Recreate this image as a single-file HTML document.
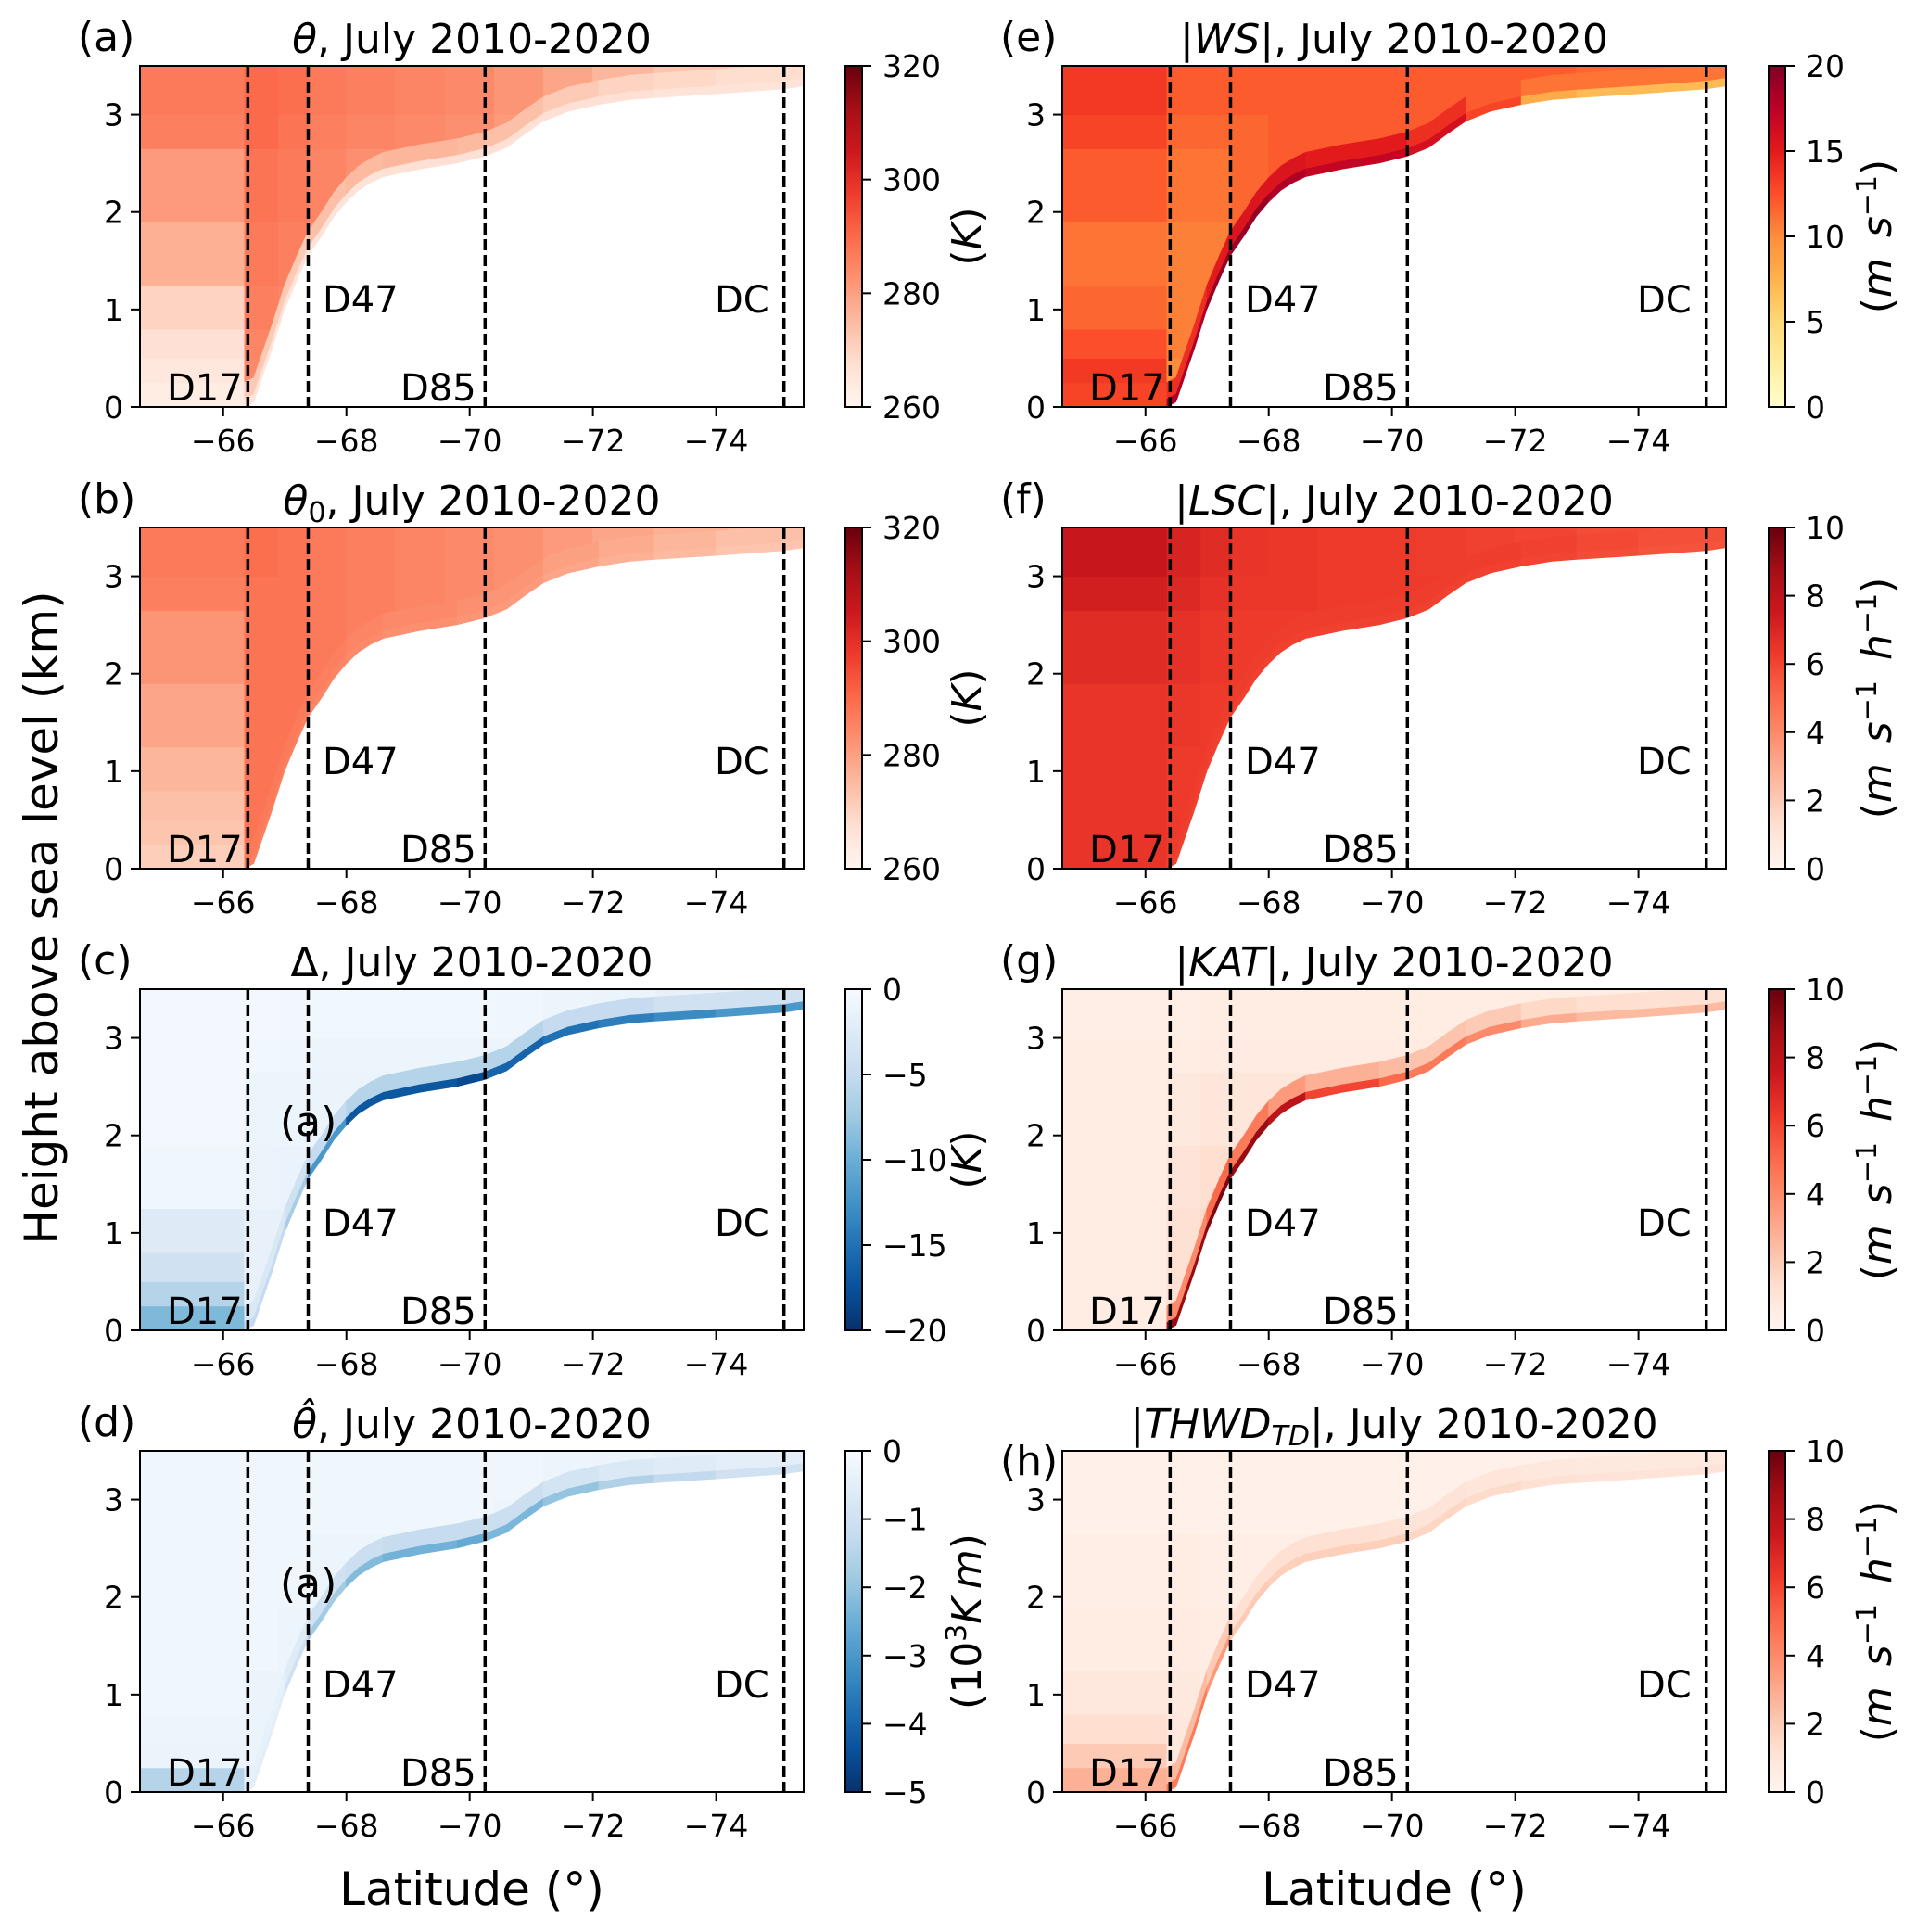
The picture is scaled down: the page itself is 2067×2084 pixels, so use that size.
<!DOCTYPE html>
<html><head><meta charset="utf-8">
<style>
html,body{margin:0;padding:0;background:#fff;}
svg{display:block;font-family:"DejaVu Sans","Liberation Sans",sans-serif;}
</style></head>
<body>
<svg id="fig" width="2067" height="2084" viewBox="0 0 2067 2084" xmlns="http://www.w3.org/2000/svg">
<defs id="defs"></defs>
</svg>
<script>
// ---------- data arrays ----------
const latEdges = [-64.65,-66.35,-66.9,-67.4,-68.0,-68.8,-69.6,-70.4,-71.2,-72.0,-73.0,-74.2,-75.42];
const hEdges = [0,0.25,0.5,0.8,1.25,1.9,2.65,3.0,3.5];
const terrainLat = [-64.65,-66.35,-66.5,-66.8,-67.0,-67.2,-67.38,-67.6,-67.8,-68.0,-68.2,-68.4,-68.6,-69.2,-69.8,-70.25,-70.6,-70.9,-71.2,-71.6,-72.1,-72.6,-73.0,-74.0,-75.1,-75.42];
const terrainH = [0,0,0.05,0.6,1.0,1.3,1.55,1.75,1.95,2.1,2.22,2.3,2.36,2.44,2.5,2.57,2.66,2.8,2.93,3.03,3.1,3.15,3.17,3.21,3.26,3.29];
const stationLat = [-66.4,-67.38,-70.25,-75.1];
const stationNames = ["D17","D47","D85","DC"];
const xTicks = [-66,-68,-70,-72,-74];
const yTicks = [0,1,2,3];
const bandDepth = [0.25,0.08];

// grids: rows bottom->top (8), cols west->east (12)
const gridA = [
 [263,283,283,283,283,283,283,283,283,283,283,283],
 [265,284,284,284,284,284,284,284,284,284,284,284],
 [267,285,285,285,285,285,285,285,285,285,285,285],
 [270,286,285,285,285,285,285,285,285,285,285,285],
 [277,287,286,284,284,284,284,284,284,284,284,284],
 [281,288,287,285,283,282,281,280,279,279,279,279],
 [286,290,288,286,285,284,283,281,278,275,273,272],
 [287,290,289,287,286,285,284,282,279,276,273,271]];
const bandA = [[272,272,272,274,275,276,275,274,272,270,269,268],[264,266,266,266,266,267,267,267,267,267,266,266]];
const gridB = [
 [271,288,288,287,286,285,284,283,281,279,277,275],
 [273,288,288,287,286,285,284,283,281,279,277,275],
 [274,288,288,287,286,285,284,283,281,279,277,275],
 [276,288,288,287,286,285,284,283,281,279,277,275],
 [279,288,288,287,286,285,284,283,281,279,277,275],
 [282,288,288,287,286,285,284,283,281,279,277,275],
 [286,288,288,287,286,285,284,283,281,279,277,275],
 [287,289,288,287,286,285,284,283,281,279,277,275]];
const bandB = [[271,287,287,286,285,284,283,282,280,278,276,274],[271,286,286,285,284,283,282,281,279,277,275,273]];
const gridC = [
 [-9,-1.5,-1.5,-1.5,-1.5,-1.5,-1.5,-1.5,-1.5,-1.5,-1.5,-1.5],
 [-6,-1.5,-1.5,-1.5,-1.5,-1.5,-1.5,-1.5,-1.5,-1.5,-1.5,-1.5],
 [-4,-1.5,-1.5,-1.5,-1.5,-1.5,-1.5,-1.5,-1.5,-1.5,-1.5,-1.5],
 [-2.5,-1.5,-1.5,-1.5,-1.5,-1.5,-1.5,-1.5,-1.5,-1.5,-1.5,-1.5],
 [-0.8,-1.2,-1.3,-1.5,-1.5,-1.5,-1.5,-1.5,-1.5,-1.5,-1.5,-1.5],
 [-0.5,-1.0,-1.0,-1.2,-1.2,-1.2,-1.2,-1.2,-1.2,-1.2,-1.2,-1.2],
 [-0.4,-0.7,-0.8,-1.0,-1.0,-1.0,-1.0,-1.0,-1.2,-1.5,-1.8,-2.0],
 [-0.4,-0.5,-0.6,-0.7,-0.7,-0.7,-0.7,-0.8,-1.0,-1.2,-1.5,-2.0]];
const bandC = [[-3,-3,-4,-5,-6,-6,-6,-6,-5,-5,-4,-4],[-5,-5,-7,-12,-17,-17,-18,-16,-15,-14,-13,-12]];
const gridD = [
 [-1.5,-0.3,-0.3,-0.3,-0.3,-0.3,-0.3,-0.3,-0.3,-0.3,-0.3,-0.3],
 [-0.3,-0.3,-0.3,-0.3,-0.3,-0.3,-0.3,-0.3,-0.3,-0.3,-0.3,-0.3],
 [-0.25,-0.3,-0.3,-0.3,-0.3,-0.3,-0.3,-0.3,-0.3,-0.3,-0.3,-0.3],
 [-0.2,-0.3,-0.3,-0.3,-0.3,-0.3,-0.3,-0.3,-0.3,-0.3,-0.3,-0.3],
 [-0.2,-0.2,-0.25,-0.3,-0.3,-0.3,-0.3,-0.3,-0.3,-0.3,-0.3,-0.3],
 [-0.2,-0.2,-0.2,-0.25,-0.25,-0.25,-0.25,-0.3,-0.3,-0.3,-0.3,-0.3],
 [-0.2,-0.2,-0.2,-0.2,-0.2,-0.2,-0.2,-0.25,-0.3,-0.4,-0.4,-0.4],
 [-0.2,-0.2,-0.2,-0.2,-0.2,-0.2,-0.2,-0.2,-0.25,-0.3,-0.4,-0.5]];
const bandD = [[-0.4,-0.4,-0.6,-1.0,-1.1,-1.2,-1.2,-1.1,-0.9,-0.7,-0.6,-0.5],[-0.5,-0.5,-1.0,-1.8,-2.2,-2.4,-2.6,-2.3,-2.0,-1.6,-1.3,-1.0]];
const gridE = [
 [13,10,10,12.5,12.5,12.5,12.5,12.5,12.5,12.5,12.5,12.5],
 [13.5,10,10,12.5,12.5,12.5,12.5,12.5,12.5,12.5,12.5,12.5],
 [12.5,10.5,10.5,12.5,12.5,12.5,12.5,12.5,12.5,12.5,12.5,12.5],
 [11.5,10.5,10.5,12.5,12.5,12.5,12.5,12.5,12.5,12.5,12.5,12.5],
 [11,10.5,10.5,11.5,12,12,12,12,12,12,12,12],
 [12,11,11,11.5,12,12,12,12,12,12,12,12],
 [13,11.5,11.5,11.5,12,12,12,12,12,12,11.5,11.5],
 [13.5,12,12,12,12,12,12,12,12,12,11.5,11.5]];
const bandE = [[14,14,15,15.5,15.5,15,15,14,12,11,11,11],[17,18,19,19,18,17,17,16,13,8,7,7]];
const gridF = [
 [6.5,6.3,6.3,6.3,6.3,6.3,6.3,6.3,6.3,6.3,6.0,5.8],
 [6.5,6.3,6.3,6.3,6.3,6.3,6.3,6.3,6.3,6.3,6.0,5.8],
 [6.5,6.3,6.3,6.3,6.3,6.3,6.3,6.3,6.3,6.3,6.0,5.8],
 [6.5,6.3,6.3,6.3,6.3,6.3,6.3,6.3,6.3,6.3,6.0,5.8],
 [6.5,6.4,6.3,6.3,6.3,6.3,6.3,6.3,6.3,6.3,6.0,5.8],
 [6.8,6.6,6.4,6.3,6.3,6.3,6.3,6.3,6.3,6.2,6.0,5.8],
 [7.3,6.9,6.6,6.4,6.4,6.3,6.3,6.3,6.2,6.0,5.9,5.7],
 [7.6,7.1,6.8,6.5,6.4,6.3,6.3,6.2,6.1,6.0,5.8,5.6]];
const bandF = [[6.2,6.2,6.2,6.2,6.2,6.2,6.2,6.2,6.2,6.1,5.9,5.7],[6.1,6.1,6.1,6.1,6.1,6.1,6.1,6.1,6.1,6.0,5.8,5.6]];
const gridG = [
 [0.5,1.2,1.5,1.0,1.0,1.0,1.0,1.0,1.0,1.0,1.0,1.0],
 [0.5,1.2,1.5,1.0,1.0,1.0,1.0,1.0,1.0,1.0,1.0,1.0],
 [0.5,1.2,1.5,1.0,1.0,1.0,1.0,1.0,1.0,1.0,1.0,1.0],
 [0.5,1.2,1.5,1.0,1.0,1.0,1.0,1.0,1.0,1.0,1.0,1.0],
 [0.5,1.0,1.3,1.0,1.0,1.0,1.0,1.0,1.0,1.0,1.0,1.0],
 [0.5,0.7,0.9,0.9,0.9,0.9,0.8,0.8,0.8,0.8,0.8,0.8],
 [0.5,0.5,0.6,0.6,0.6,0.6,0.6,0.6,0.6,0.6,0.6,0.6],
 [0.4,0.4,0.5,0.5,0.5,0.5,0.5,0.5,0.5,0.5,0.5,0.5]];
const bandG = [[4,4,5,4.5,3.5,2.8,2.5,2.2,2,1.5,1.3,1.2],[9,9,9.5,9,8,6,5,4.5,4,3,2.5,2.5]];
const gridH = [
 [2.8,0.8,0.6,0.4,0.4,0.4,0.4,0.4,0.4,0.4,0.4,0.4],
 [2.0,0.8,0.6,0.4,0.4,0.4,0.4,0.4,0.4,0.4,0.4,0.4],
 [1.3,0.8,0.6,0.4,0.4,0.4,0.4,0.4,0.4,0.4,0.4,0.4],
 [0.8,0.7,0.5,0.4,0.4,0.4,0.4,0.4,0.4,0.4,0.4,0.4],
 [0.5,0.6,0.5,0.4,0.4,0.4,0.4,0.4,0.4,0.4,0.4,0.4],
 [0.4,0.5,0.4,0.4,0.4,0.4,0.4,0.4,0.4,0.4,0.4,0.4],
 [0.3,0.3,0.3,0.3,0.3,0.3,0.3,0.3,0.3,0.4,0.4,0.4],
 [0.3,0.3,0.3,0.3,0.3,0.3,0.3,0.3,0.3,0.3,0.4,0.5]];
const bandH = [[2.5,2.5,2,1.2,1.2,1.2,1.1,1,0.9,0.8,0.7,0.7],[4.5,4.5,3.5,2,1.8,1.8,1.8,1.6,1.4,1.2,1,1]];

const cbarTicksA = [260,280,300,320];
const cbarTicksC = [0,-5,-10,-15,-20];
const cbarTicksD = [0,-1,-2,-3,-4,-5];
const cbarTicksE = [0,5,10,15,20];
const cbarTicksF = [0,2,4,6,8,10];

// ---------- colormaps ----------
const REDS=["#fff5f0","#fee0d2","#fcbba1","#fc9272","#fb6a4a","#ef3b2c","#cb181d","#a50f15","#67000d"];
const BLUES=["#f7fbff","#deebf7","#c6dbef","#9ecae1","#6baed6","#4292c6","#2171b5","#08519c","#08306b"];
const YLORRD=["#ffffcc","#ffeda0","#fed976","#feb24c","#fd8d3c","#fc4e2a","#e31a1c","#bd0026","#800026"];
function hex(c){return [parseInt(c.substr(1,2),16),parseInt(c.substr(3,2),16),parseInt(c.substr(5,2),16)];}
function cmap(stops,t){t=Math.max(0,Math.min(1,t));const n=stops.length-1;const f=t*n;const i=Math.min(n-1,Math.floor(f));const u=f-i;const a=hex(stops[i]),b=hex(stops[i+1]);
 return "rgb("+a.map((v,k)=>Math.round(v+(b[k]-v)*u)).join(",")+")";}

const panels=[
 {id:"a",col:0,row:0,grid:gridA,band:bandA,cm:REDS,lo:260,hi:320,rev:false,ticks:cbarTicksA,cl:"K",title:[["θ","i"],[", July 2010-2020",""]],extra:false},
 {id:"b",col:0,row:1,grid:gridB,band:bandB,cm:REDS,lo:260,hi:320,rev:false,ticks:cbarTicksA,cl:"K",title:[["θ","i"],["0","sub"],[", July 2010-2020",""]],extra:false},
 {id:"c",col:0,row:2,grid:gridC,band:bandC,cm:BLUES,lo:-20,hi:0,rev:true,ticks:cbarTicksC,cl:"K",title:[["Δ, July 2010-2020",""]],extra:true},
 {id:"d",col:0,row:3,grid:gridD,band:bandD,cm:BLUES,lo:-5,hi:0,rev:true,ticks:cbarTicksD,cl:"KM",title:[["θ\u0302","i"],[", July 2010-2020",""]],extra:true},
 {id:"e",col:1,row:0,grid:gridE,band:bandE,cm:YLORRD,lo:0,hi:20,rev:false,ticks:cbarTicksE,cl:"MS",title:[["|",""],["WS","i"],["|, July 2010-2020",""]],extra:false},
 {id:"f",col:1,row:1,grid:gridF,band:bandF,cm:REDS,lo:0,hi:10,rev:false,ticks:cbarTicksF,cl:"MSH",title:[["|",""],["LSC","i"],["|, July 2010-2020",""]],extra:false},
 {id:"g",col:1,row:2,grid:gridG,band:bandG,cm:REDS,lo:0,hi:10,rev:false,ticks:cbarTicksF,cl:"MSH",title:[["|",""],["KAT","i"],["|, July 2010-2020",""]],extra:false},
 {id:"h",col:1,row:3,grid:gridH,band:bandH,cm:REDS,lo:0,hi:10,rev:false,ticks:cbarTicksF,cl:"MSH",title:[["|",""],["THWD","i"],["TD","isub"],["|, July 2010-2020",""]],extra:false}
];

// ---------- layout ----------
const colX=[151,1146], plotW=716, rowY=[71,569,1067,1565], plotH=368;
const cbX=[912,1908], cbW=18;
const LAT0=-64.65, LAT1=-75.42, HMAX=3.5;
const NS="http://www.w3.org/2000/svg";
const svg=document.getElementById("fig"), defs=document.getElementById("defs");
function el(tag,attrs,parent){const e=document.createElementNS(NS,tag);for(const k in attrs)e.setAttribute(k,attrs[k]);(parent||svg).appendChild(e);return e;}

panels.forEach(p=>{
 const x0=colX[p.col], y0=rowY[p.row];
 const X=lat=>x0+(lat-LAT0)/(LAT1-LAT0)*plotW;
 const Y=h=>y0+plotH-h/HMAX*plotH;
 const col=v=>p.rev?cmap(p.cm,(p.hi-v)/(p.hi-p.lo)):cmap(p.cm,(v-p.lo)/(p.hi-p.lo));
 const g=el("g",{});
 
 
 const cid="clip"+p.id;
 const cp=el("clipPath",{id:cid},defs); el("rect",{x:x0,y:y0,width:plotW,height:plotH},cp);
 const field=el("g",{"clip-path":"url(#"+cid+")"},g);
 
 
 for(let r=0;r<hEdges.length-1;r++)for(let c=0;c<latEdges.length-1;c++){
  const xa=X(latEdges[c]),xb=X(latEdges[c+1]),ya=Y(hEdges[r+1]),yb=Y(hEdges[r]);
  const rc=el("rect",{x:xa-0.5,y:ya-0.5,width:xb-xa+1,height:yb-ya+1,fill:col(p.grid[r][c])},field);
  
  
 }
 // near-surface bands
 p.band.forEach((bv,bi)=>{
  const d=bandDepth[bi];
  for(let i=0;i<terrainLat.length-1;i++){
   if(terrainLat[i]>-66.35) continue;
   const mid=(terrainLat[i]+terrainLat[i+1])/2;
   let c=0; while(c<latEdges.length-2 && mid<latEdges[c+1]) c++;
   const pts=[[X(terrainLat[i]),Y(terrainH[i])],[X(terrainLat[i+1]),Y(terrainH[i+1])],[X(terrainLat[i+1]),Y(Math.min(HMAX+0.2,terrainH[i+1]+d))],[X(terrainLat[i]),Y(Math.min(HMAX+0.2,terrainH[i]+d))]];
   const pg=el("polygon",{points:pts.map(q=>q.join(",")).join(" "),fill:col(bv[c]),stroke:col(bv[c]),"stroke-width":1},field);
   
   
  }
 });
 // terrain mask
 const tp=terrainLat.map((l,i)=>[X(l),Y(terrainH[i])]);
 tp.push([X(LAT1),Y(0)+2]);tp.push([X(LAT0),Y(0)+2]);
 const ter=el("polygon",{points:tp.map(q=>q.join(",")).join(" "),fill:"#fff"},field);
 
 
 // station lines
 stationLat.forEach((s,i)=>{
  const ln=el("line",{x1:X(s),x2:X(s),y1:y0,y2:y0+plotH,stroke:"#000","stroke-width":3.5,"stroke-dasharray":"12,5"},g);
  
  
 });
 // station labels
 const lab=[[x0+29,y0+361,"D17"],[x0+197,y0+266,"D47"],[x0+281,y0+361,"D85"],[x0+620,y0+266,"DC"]];
 lab.forEach(t=>{const tx=el("text",{x:t[0],y:t[1],"font-size":40,fill:"#000"},g);tx.textContent=t[2];
  
  });
 if(p.extra){const tx=el("text",{x:x0+151,y:y0+158,"font-size":44,fill:"#000"},g);tx.textContent="(a)";
  
  }
 // frame
 const fr=el("rect",{x:x0,y:y0,width:plotW,height:plotH,fill:"none",stroke:"#000","stroke-width":2},g);
 
 
 // ticks
 xTicks.forEach(t=>{
  el("line",{x1:X(t),x2:X(t),y1:y0+plotH,y2:y0+plotH+10,stroke:"#000","stroke-width":2},g);
  const tx=el("text",{x:X(t),y:y0+plotH+48,"font-size":33,"text-anchor":"middle"},g);
  tx.textContent="\u2212"+Math.abs(t);
  
  
 });
 yTicks.forEach(t=>{
  el("line",{x1:x0-10,x2:x0,y1:Y(t),y2:Y(t),stroke:"#000","stroke-width":2},g);
  const tx=el("text",{x:x0-18,y:Y(t)+12,"font-size":33,"text-anchor":"end"},g);
  tx.textContent=String(t);
  
  
 });
 // title
 const tt=el("text",{x:x0+plotW/2,y:y0-14,"font-size":44,"text-anchor":"middle"},g);
 
 
 p.title.forEach(s=>{const ts=el("tspan",{},tt);ts.textContent=s[0];
  if(s[1]==="i")ts.setAttribute("font-style","italic");
  if(s[1]==="sub"){ts.setAttribute("font-size",30);ts.setAttribute("baseline-shift","-8");}
  if(s[1]==="isub"){ts.setAttribute("font-size",30);ts.setAttribute("font-style","italic");ts.setAttribute("baseline-shift","-8");}});
 // panel letter
 const lx=p.col===0?84:1079, ly=p.id==="h"?y0+26:y0-16;
 const pl=el("text",{x:lx,y:ly,"font-size":44},g);pl.textContent="("+p.id+")";
 
 
 // colorbar
 const gid="grad"+p.id;
 const lg=el("linearGradient",{id:gid,x1:0,y1:1,x2:0,y2:0},defs);
 for(let k=0;k<=16;k++){const v=p.lo+(p.hi-p.lo)*k/16;el("stop",{offset:k/16,"stop-color":col(v)},lg);}
 const cx=cbX[p.col];
 const cb=el("rect",{x:cx,y:y0,width:cbW,height:plotH,fill:"url(#"+gid+")",stroke:"#000","stroke-width":2},g);
 
 
 p.ticks.forEach(t=>{
  const yy=y0+plotH-(t-p.lo)/(p.hi-p.lo)*plotH;
  el("line",{x1:cx+cbW,x2:cx+cbW+10,y1:yy,y2:yy,stroke:"#000","stroke-width":2},g);
  const tx=el("text",{x:cx+cbW+22,y:yy+12,"font-size":33},g);
  tx.textContent=(t<0?"\u2212":"")+Math.abs(t);
  
  
 });
 // colorbar label
 const lxc=p.col===0?1058:2040, lyc=y0+plotH/2;
 const cl=el("text",{x:0,y:0,"font-size":44,"text-anchor":"middle",transform:"translate("+lxc+","+lyc+") rotate(-90)"},g);
 
 
 const parts = p.cl==="K"?[["(",""],["K","i"],[")",""]]:
   p.cl==="KM"?[["(10",""],["3","sup"],["K","i"],["\u2009",""],["m","i"],[")",""]]:
   p.cl==="MS"?[["(",""],["m","i"],["\u2002",""],["s","i"],["\u22121","sup"],[")",""]]:
   [["(",""],["m","i"],["\u2002",""],["s","i"],["\u22121","sup"],["\u2002",""],["h","i"],["\u22121","sup"],[")",""]];
 parts.forEach(s=>{const ts=el("tspan",{},cl);ts.textContent=s[0];
  if(s[1]==="i")ts.setAttribute("font-style","italic");
  if(s[1]==="sup"){ts.setAttribute("font-size",30);ts.setAttribute("baseline-shift","16");}});
});

// axis titles
const yl=el("text",{x:0,y:0,"font-size":50,"text-anchor":"middle",transform:"translate(62,990) rotate(-90)"});
yl.textContent="Height above sea level (km)";


[509,1504].forEach(cx=>{const t=el("text",{x:cx,y:2055,"font-size":50,"text-anchor":"middle"});t.textContent="Latitude (°)";
 
 });
</script>
</body></html>
